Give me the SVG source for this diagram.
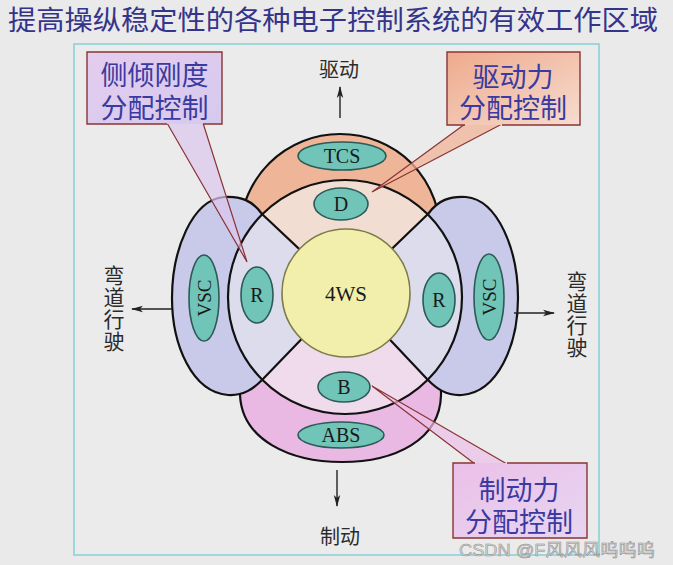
<svg xmlns="http://www.w3.org/2000/svg" width="673" height="565" viewBox="0 0 673 565">
<defs>
<style>
.cjk{font-family:"Liberation Sans","Noto Sans CJK SC",sans-serif}
.lbl{font-family:"Liberation Sans","Noto Sans CJK SC",sans-serif;font-size:20px;fill:#2a2a2a;text-anchor:middle}
.vl{font-family:"Noto Sans CJK SC",sans-serif;font-size:21px;fill:#2a2a2a;writing-mode:vertical-rl;text-orientation:upright;letter-spacing:1px}
.ct{font-family:"Liberation Sans","Noto Sans CJK SC",sans-serif;font-size:27px;fill:#3a3aa0;text-anchor:middle}
.ser{font-family:"Liberation Serif","Times New Roman",serif;fill:#1a1a1a;text-anchor:middle}
.lobe{stroke:#111;stroke-width:2.2}
.oval{fill:#70c4b8;stroke:#2c5a56;stroke-width:1.6}
.cb{stroke:#8a3434;stroke-width:1.4;fill:none}
.tl{stroke:#8a3434;stroke-width:1.2}
.ar{stroke:#222;stroke-width:1.4;fill:none;marker-end:url(#ah)}
</style>
<marker id="ah" viewBox="0 0 12 8" refX="11" refY="4" markerWidth="12" markerHeight="8" markerUnits="userSpaceOnUse" orient="auto">
<path d="M0,0.8 L12,4 L0,7.2 L3,4 Z" fill="#222"/>
</marker>
<linearGradient id="g1" x1="0" y1="0" x2="1" y2="1">
<stop offset="0" stop-color="#e4cdee"/><stop offset="1" stop-color="#d6c9ee"/>
</linearGradient>
<linearGradient id="g2" x1="0" y1="0" x2="1" y2="1">
<stop offset="0" stop-color="#eeaa8c"/><stop offset="1" stop-color="#f6dcd0"/>
</linearGradient>
<linearGradient id="g3" x1="0" y1="0" x2="1" y2="1">
<stop offset="0" stop-color="#ecbfe8"/><stop offset="1" stop-color="#e6d6f2"/>
</linearGradient>
</defs>
<rect width="673" height="565" fill="#eaeaea"/>
<rect x="74" y="44" width="525" height="511" fill="#ebebeb" stroke="#9fd6dc" stroke-width="2"/>
<text id="title" class="cjk" x="8" y="30" font-size="27" fill="#34348a" textLength="650" lengthAdjust="spacingAndGlyphs">提高操纵稳定性的各种电子控制系统的有效工作区域</text>

<g id="tcs-lobe"><path class="lobe" fill="#eeb598" d="M238,252 C236,172 290,134 340,134 C392,134 444,172 442,252 Z"/></g>
<g id="abs-lobe"><path class="lobe" fill="#e9b8e3" d="M240,330 L240,395 C242,440 290,462 342,462 C395,462 440,440 441,395 L441,330 Z"/></g>
<g id="vsc-left-lobe"><path class="lobe" fill="#c9c9e9" d="M262,214 C252,200 240,196 224,197 C192,200 172,250 172,298 C172,345 192,392 228,395 C244,396 254,388 262,380 Z"/></g>
<g id="vsc-right-lobe"><path class="lobe" fill="#c9c9e9" d="M428,214 C438,200 450,196 466,197 C498,200 518,250 518,298 C518,345 498,392 462,395 C446,396 436,388 428,380 Z"/></g>

<g id="middle-ring">
<path fill="#f2ddd3" d="M345,297 L262.27,214.27 A117,117 0 0 1 427.73,214.27 Z"/>
<path fill="#dddced" d="M345,297 L427.73,214.27 A117,117 0 0 1 427.73,379.73 Z"/>
<path fill="#efdbec" d="M345,297 L427.73,379.73 A117,117 0 0 1 262.27,379.73 Z"/>
<path fill="#dddced" d="M345,297 L262.27,379.73 A117,117 0 0 1 262.27,214.27 Z"/>
<path stroke="#111" stroke-width="2.2" d="M262.27,214.27 L346,293 M427.73,214.27 L346,293 M427.73,379.73 L346,293 M262.27,379.73 L346,293"/>
<circle cx="345" cy="297" r="117" fill="none" stroke="#111" stroke-width="2.2"/>
</g>

<g id="n-4ws"><circle cx="346" cy="293" r="64" fill="#f2eeab" stroke="#7c7c48" stroke-width="1.6"/><text class="ser" x="346" y="301" font-size="21">4WS</text></g>
<g id="n-tcs"><ellipse class="oval" cx="342" cy="156" rx="44" ry="14"/><text class="ser" x="342" y="163" font-size="20">TCS</text></g>
<g id="n-d"><ellipse class="oval" cx="341" cy="204" rx="27" ry="16"/><text class="ser" x="341" y="211" font-size="20">D</text></g>
<g id="n-r-left"><ellipse class="oval" cx="257" cy="295" rx="16" ry="28"/><text class="ser" x="257" y="302" font-size="20">R</text></g>
<g id="n-r-right"><ellipse class="oval" cx="439" cy="300" rx="16" ry="27"/><text class="ser" x="439" y="307" font-size="20">R</text></g>
<g id="n-vsc-left"><ellipse class="oval" cx="204" cy="298" rx="15" ry="43"/><text class="ser" transform="translate(211,298) rotate(-90)" x="0" y="0" font-size="19">VSC</text></g>
<g id="n-vsc-right"><ellipse class="oval" cx="489" cy="297" rx="15" ry="43"/><text class="ser" transform="translate(496,297) rotate(-90)" x="0" y="0" font-size="19">VSC</text></g>
<g id="n-b"><ellipse class="oval" cx="344" cy="387" rx="26" ry="15"/><text class="ser" x="344" y="394" font-size="20">B</text></g>
<g id="n-abs"><ellipse class="oval" cx="341" cy="435" rx="43" ry="13"/><text class="ser" x="341" y="442" font-size="20">ABS</text></g>

<g id="connectors">
<path class="ar" d="M340,118 L340,87"/>
<path class="ar" d="M337,470 L337,506"/>
<path class="ar" d="M172,309 L132,309"/>
<path class="ar" d="M514,313 L554,313"/>
<polygon points="167,123 247,262 203,123" fill="#dcc6ee" fill-opacity="0.7"/>
<path class="tl" d="M167,123 L247,262 L203,123" fill="none"/>
<polygon points="465,124 372,192 502,124" fill="#f0b49a" fill-opacity="0.75"/>
<path class="tl" d="M465,124 L372,192 L502,124" fill="none"/>
<polygon points="475,464 372,386 507,464" fill="#ecc0e8" fill-opacity="0.7"/>
<path class="tl" d="M475,464 L372,386 L507,464" fill="none"/>
</g>

<g id="label-drive"><text class="lbl" x="339" y="77">驱动</text></g>
<g id="label-brake"><text class="lbl" x="340" y="544">制动</text></g>
<g id="label-left"><text class="vl" x="114" y="265">弯道行驶</text></g>
<g id="label-right"><text class="vl" x="577" y="271">弯道行驶</text></g>

<g id="callout-roll">
<rect x="87" y="52" width="135" height="72" fill="url(#g1)"/>
<path class="cb" d="M203,124 H222 V52 H87 V124 H167"/>
<text class="ct"><tspan x="154.5" y="85">侧倾刚度</tspan><tspan x="154.5" y="118">分配控制</tspan></text>
</g>
<g id="callout-drive">
<rect x="447" y="52" width="133" height="73" fill="url(#g2)"/>
<path class="cb" d="M502,125 H580 V52 H447 V125 H465"/>
<text class="ct"><tspan x="513" y="87">驱动力</tspan><tspan x="513" y="118">分配控制</tspan></text>
</g>
<g id="callout-brake">
<rect x="453" y="463" width="134" height="75" fill="url(#g3)"/>
<path class="cb" d="M475,463 H453 V538 H587 V463 H507"/>
<text class="ct"><tspan x="519" y="500">制动力</tspan><tspan x="519" y="532">分配控制</tspan></text>
</g>
<text id="watermark" class="cjk" x="459" y="556" font-size="17" fill="#dadada" stroke="#8a8a8a" stroke-width="0.5" textLength="196" lengthAdjust="spacingAndGlyphs">CSDN @F风风风呜呜呜</text>
</svg>
